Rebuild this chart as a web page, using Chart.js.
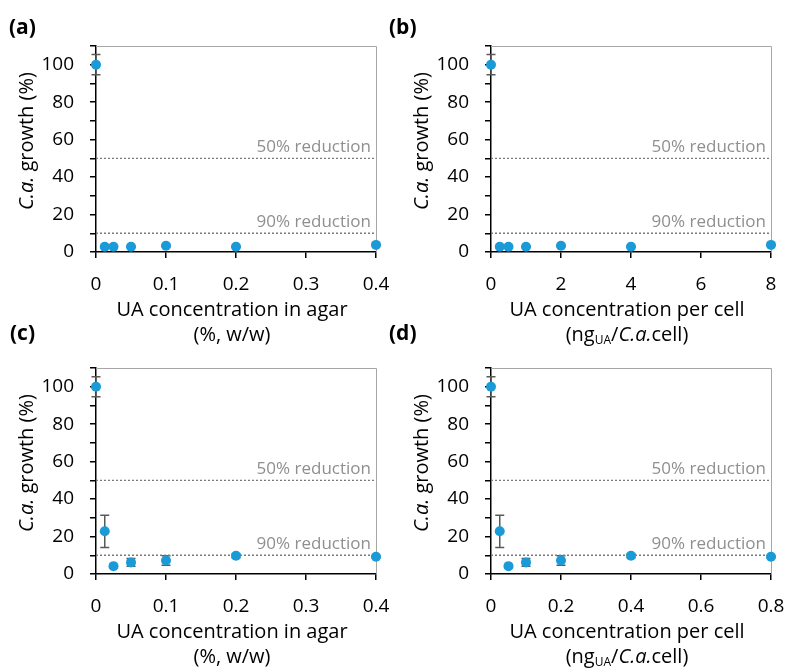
<!DOCTYPE html>
<html>
<head>
<meta charset="utf-8">
<script src="https://cdn.jsdelivr.net/npm/chart.js@4/dist/chart.umd.min.js"></script>
<style>
  html,body{margin:0;padding:0;background:#fff;}
  #wrap{position:relative;width:788px;height:672px;overflow:hidden;font-family:"Open Sans",sans-serif;}
  canvas{position:absolute;}
  .plabel{position:absolute;font-family:"Open Sans",sans-serif;font-weight:bold;font-size:21px;line-height:28px;color:#000;}
</style>
</head>
<body>
<div id="wrap">
  <canvas id="ca" width="394" height="350" style="left:0;top:0"></canvas>
  <canvas id="cb" width="393" height="350" style="left:395px;top:0"></canvas>
  <canvas id="cc" width="394" height="350" style="left:0;top:322px"></canvas>
  <canvas id="cd" width="393" height="350" style="left:395px;top:322px"></canvas>
  <div class="plabel" style="left:9px;top:12px">(a)</div>
  <div class="plabel" style="left:389px;top:12px">(b)</div>
  <div class="plabel" style="left:10px;top:318px">(c)</div>
  <div class="plabel" style="left:389px;top:318px">(d)</div>
</div>
<script>
// ---- data ----
const concAgar = [0, 0.0125, 0.025, 0.05, 0.1, 0.2, 0.4];
const concCellB = [0, 0.25, 0.5, 1, 2, 4, 8];
const concCellD = [0, 0.025, 0.05, 0.1, 0.2, 0.4, 0.8];
const growthAB = [100, 2.8, 2.8, 2.8, 3.3, 2.8, 3.8];
const errAB = [5.4, 0.3, 0.3, 0.3, 0.3, 0.3, 0.3];
const growthCD = [100, 22.8, 4.2, 6.2, 7.2, 9.7, 9.2];
const errCD = [5.3, 8.6, 0.8, 2.1, 2.5, 1.0, 0.5];
const refLevels = [50, 10];
const refLabels = ['50% reduction', '90% reduction'];
const xMaxAgar = 0.4, xStepAgar = 0.1;
const xMaxCellB = 8, xStepCellB = 2;
const xMaxCellD = 0.8, xStepCellD = 0.2;
const yMax = 110, yStep = 10, yLabelStep = 20;
const yTitle = [{t:'C.a.', it:true}, {t:' growth (%)'}];
const xTitleAgar = [[{t:'UA concentration in agar'}], [{t:'(%, w/w)'}]];
const xTitleCell = [[{t:'UA concentration per cell'}],
  [{t:'(ng'}, {t:'UA', sub:true}, {t:'/'}, {t:'C.a.', it:true}, {t:'cell)'}]];

// ---- style ----
const FONT = '"Open Sans", sans-serif';
const PT_COLOR = '#1b9ad8';
const ERR_COLOR = '#595959';
const REF_COLOR = '#7a7a7a';
const REF_TEXT = '#8f8f8f';
const TITLE_SIZE = 20;
const TICK_SIZE = 19;

function fontStr(seg, size){
  const s = seg.sub ? Math.round(size*0.62) : size;
  return (seg.it ? 'italic ' : '') + s + 'px ' + FONT;
}
function drawRich(ctx, segs, cx, cy, size){
  let w = 0;
  segs.forEach(s => { ctx.font = fontStr(s, size); w += ctx.measureText(s.t).width; });
  let x = cx - w/2;
  ctx.textAlign = 'left'; ctx.textBaseline = 'middle'; ctx.fillStyle = '#000';
  segs.forEach(s => {
    ctx.font = fontStr(s, size);
    ctx.fillText(s.t, x, cy + (s.sub ? size*0.3 : 0));
    x += ctx.measureText(s.t).width;
  });
}

const panelPlugin = {
  id: 'panelPlugin',
  beforeDatasetsDraw(chart){
    const {ctx, chartArea: a, scales} = chart;
    const o = chart.options.plugins.panelPlugin;
    ctx.save();
    // gray top/right frame
    ctx.strokeStyle = '#a6a6a6'; ctx.lineWidth = 1;
    ctx.beginPath();
    ctx.moveTo(a.left, a.top + 0.5); ctx.lineTo(a.right + 0.5, a.top + 0.5); ctx.lineTo(a.right + 0.5, a.bottom);
    ctx.stroke();
    // reference labels
    ctx.fillStyle = REF_TEXT; ctx.font = '17px ' + FONT;
    ctx.textAlign = 'right'; ctx.textBaseline = 'alphabetic';
    refLevels.forEach((lv, i) => {
      ctx.fillText(refLabels[i], a.right - 5, scales.y.getPixelForValue(lv) - 6);
    });
    // error bars
    ctx.strokeStyle = ERR_COLOR; ctx.lineWidth = 1.5;
    o.xs.forEach((xv, i) => {
      const px = scales.x.getPixelForValue(xv);
      const y1 = scales.y.getPixelForValue(o.ys[i] - o.err[i]);
      const y2 = scales.y.getPixelForValue(o.ys[i] + o.err[i]);
      ctx.beginPath();
      ctx.moveTo(px, y1); ctx.lineTo(px, y2);
      ctx.moveTo(px - 4.5, y1); ctx.lineTo(px + 4.5, y1);
      ctx.moveTo(px - 4.5, y2); ctx.lineTo(px + 4.5, y2);
      ctx.stroke();
    });
    ctx.restore();
  },
  afterDraw(chart){
    const {ctx, chartArea: a, scales} = chart;
    const o = chart.options.plugins.panelPlugin;
    ctx.save();
    // x tick labels (from the scale's own ticks)
    ctx.fillStyle = '#000'; ctx.font = TICK_SIZE + 'px ' + FONT;
    ctx.textAlign = 'center'; ctx.textBaseline = 'middle';
    scales.x.ticks.forEach(t => {
      ctx.fillText(String(t.label), scales.x.getPixelForValue(t.value), a.bottom + 33);
    });
    const cx = (a.left + a.right)/2 - 4;
    drawRich(ctx, o.xTitle[0], cx, a.bottom + 58, TITLE_SIZE);
    drawRich(ctx, o.xTitle[1], cx, a.bottom + 83, TITLE_SIZE);
    ctx.translate(27, (a.top + a.bottom)/2 - 8);
    ctx.rotate(-Math.PI/2);
    drawRich(ctx, yTitle, 0, 0, TITLE_SIZE);
    ctx.restore();
  }
};

function makeChart(id, xs, ys, err, xMax, xStep, xTitle, rightPad){
  const pts = xs.map((x, i) => ({x, y: ys[i]}));
  const refSets = refLevels.map(lv => ({
    type: 'line', data: [{x: 0, y: lv}, {x: xMax, y: lv}],
    borderColor: REF_COLOR, borderWidth: 1.3, borderDash: [2, 2],
    pointRadius: 0, showLine: true, clip: false, order: 2
  }));
  new Chart(document.getElementById(id), {
    type: 'scatter',
    data: {datasets: [
      {data: pts, backgroundColor: PT_COLOR, borderColor: PT_COLOR, borderWidth: 0,
       pointRadius: 5, clip: false, order: 1},
      ...refSets
    ]},
    options: {
      responsive: false, animation: false,
      layout: {padding: {left: 0, top: 46, right: rightPad, bottom: 0}},
      plugins: {legend: {display: false}, tooltip: {enabled: false},
        panelPlugin: {xs, ys, err, xTitle}},
      scales: {
        x: {type: 'linear', min: 0, max: xMax,
          ticks: {display: false, stepSize: xStep, maxRotation: 0, autoSkip: false},
          grid: {drawOnChartArea: false, drawTicks: true, tickLength: 6, color: '#000', lineWidth: 1.5},
          border: {color: '#000', width: 1.5},
          afterFit: s => { s.height = 350 - 252; }
        },
        y: {min: 0, max: yMax,
          ticks: {stepSize: yStep, autoSkip: false, color: '#000',
            font: {family: FONT, size: TICK_SIZE}, padding: 16,
            callback: v => (v % yLabelStep === 0 ? v : '')},
          grid: {drawOnChartArea: false, drawTicks: true, tickLength: 6, color: '#000', lineWidth: 1.5},
          border: {color: '#000', width: 1.5},
          afterFit: s => { s.width = 96; }
        }
      }
    },
    plugins: [panelPlugin]
  });
}

makeChart('ca', concAgar, growthAB, errAB, xMaxAgar, xStepAgar, xTitleAgar, 18);
makeChart('cb', concCellB, growthAB, errAB, xMaxCellB, xStepCellB, xTitleCell, 17);
makeChart('cc', concAgar, growthCD, errCD, xMaxAgar, xStepAgar, xTitleAgar, 18);
makeChart('cd', concCellD, growthCD, errCD, xMaxCellD, xStepCellD, xTitleCell, 17);
</script>
</body>
</html>
